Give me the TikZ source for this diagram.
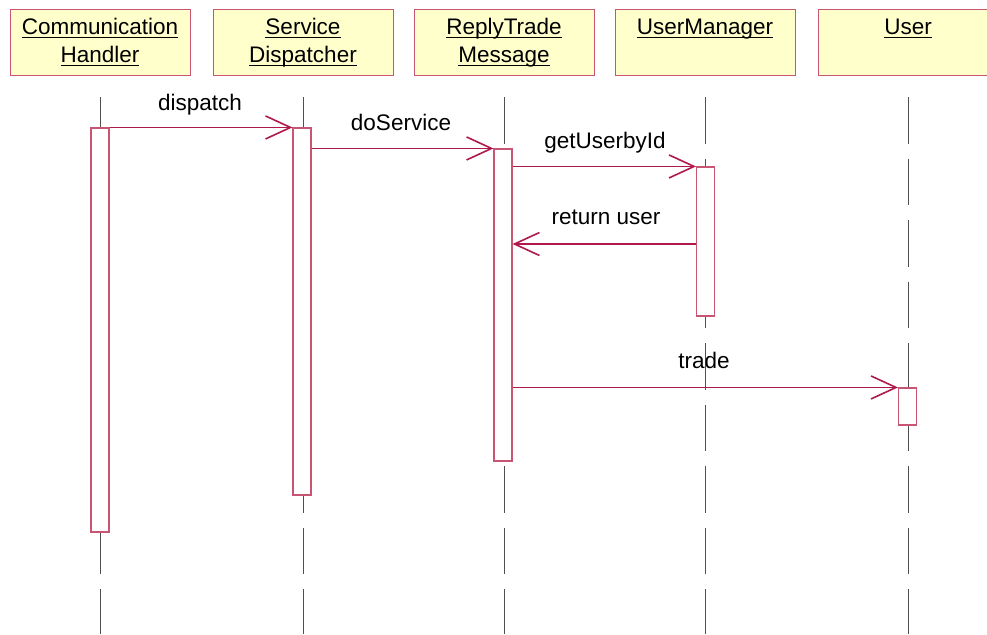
\documentclass[tikz,border=0pt]{standalone}
\usepackage{fontspec}
\setmainfont{Liberation Sans}
\usetikzlibrary{arrows.meta}
\definecolor{boxfill}{RGB}{255,255,204}
\definecolor{boxline}{RGB}{200,85,115}
\definecolor{msgline}{RGB}{175,25,75}
\definecolor{lifeline}{RGB}{80,80,80}
\newcommand\ulx[1]{\setbox0\hbox{#1}\rlap{\rule[-3pt]{\wd0}{1.3pt}}\box0}
\tikzset{
  x=1pt, y=-1pt,
  hdr/.style={draw=boxline, line width=1pt, fill=boxfill, minimum width=180pt, minimum height=65pt, inner sep=0pt},
  htext/.style={anchor=base, inner sep=0pt, font=\fontsize{22.5}{27}\selectfont},
  mtext/.style={anchor=base, inner sep=0pt, font=\fontsize{22.5}{27}\selectfont},
  life/.style={draw=lifeline, line width=1pt, dash pattern=on 46.5pt off 15pt},
  act/.style={draw=boxline, line width=1.1pt, fill=white, minimum width=18pt, inner sep=0pt},
  msg/.style={draw=msgline, line width=1.1pt, -{Straight Barb[length=25pt,width=23pt,line width=1.6pt]}},
}
\begin{document}
\begin{tikzpicture}
\useasboundingbox (0,0) rectangle (987,634);
% headers
\node[hdr] (h1) at (100,42.5) {};
\node[hdr] (h2) at (303,42.5) {};
\node[hdr] (h3) at (504,42.5) {};
\node[hdr] (h4) at (705,42.5) {};
\node[hdr] (h5) at (908,42.5) {};
\node[htext] (t1a) at (100,35) {\ulx{Communication}};
\node[htext] (t1b) at (100,63) {\ulx{Handler}};
\node[htext] (t2a) at (303,35) {\ulx{Service}};
\node[htext] (t2b) at (303,63) {\ulx{Dispatcher}};
\node[htext] (t3a) at (504,35) {\ulx{ReplyTrade}};
\node[htext] (t3b) at (504,63) {\ulx{Message}};
\node[htext] (t4a) at (705,35) {\ulx{UserManager}};
\node[htext] (t5a) at (908,35) {\ulx{User}};
% lifelines
\coordinate (l1) at (100,97); \coordinate (e1) at (100,634);
\coordinate (l2) at (303,97); \coordinate (e2) at (303,634);
\coordinate (l3) at (504,97); \coordinate (e3) at (504,634);
\coordinate (l4) at (705,97); \coordinate (e4) at (705,634);
\coordinate (l5) at (908,97); \coordinate (e5) at (908,634);
\foreach \i in {1,...,5} { \draw[life] (l\i) -- (e\i); }
% activations
\node[act, minimum height=404pt] (a1) at (100,330) {};
\node[act, minimum height=367pt] (a2) at (302,311.5) {};
\node[act, minimum height=312pt] (a3) at (503,305) {};
\node[act, minimum height=149pt] (a4) at (705.5,241.5) {};
\node[act, minimum height=37pt]  (a5) at (907.5,406.5) {};
% messages
\draw[msg] (a1.north east) -- (a2.north west);
\node[mtext] (m1) at (200,110) {dispatch};
\draw[msg] (a3.north west -| a2.east) -- (a3.north west);
\node[mtext] (m2) at (401,130) {doService};
\draw[msg] (a4.north west -| a3.east) -- (a4.north west);
\node[mtext] (m3) at (605,148) {getUserbyId};
\coordinate (r1) at (0,244);
\draw[msg] (r1 -| a4.west) -- (r1 -| a3.east);
\node[mtext] (m4) at (606,224) {return user};
\draw[msg] (a5.north west -| a3.east) -- (a5.north west);
\node[mtext] (m5) at (704,368) {trade};
\end{tikzpicture}
\end{document}
